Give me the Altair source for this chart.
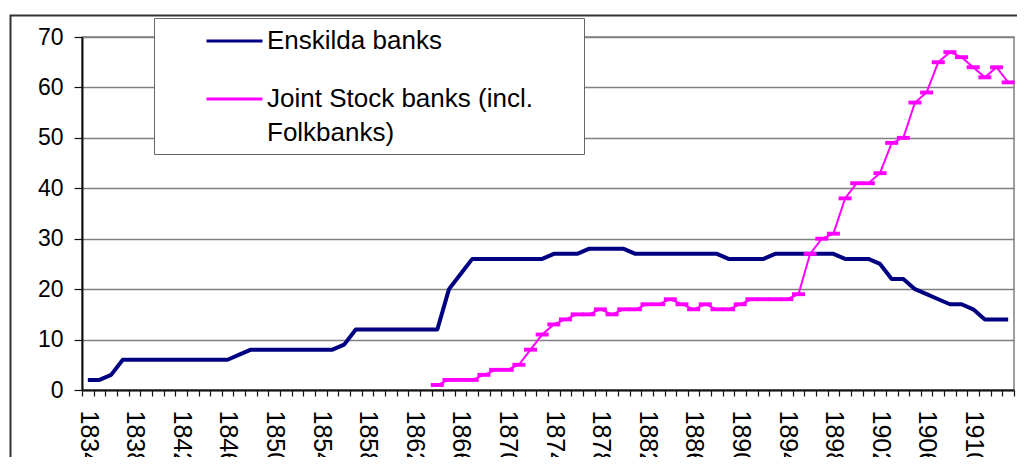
import altair as alt
import pandas as pd

# ---- data ----
years = list(range(1834, 1914))
enskilda = [2, 2, 3, 6, 6, 6, 6, 6, 6, 6,          # 1834-1843
            6, 6, 6, 7, 8, 8, 8, 8, 8, 8,          # 1844-1853
            8, 8, 9, 12, 12, 12, 12, 12, 12, 12,   # 1854-1863
            12, 20, 23, 26, 26, 26, 26, 26, 26, 26,  # 1864-1873
            27, 27, 27, 28, 28, 28, 28, 27, 27, 27,  # 1874-1883
            27, 27, 27, 27, 27, 26, 26, 26, 26, 27,  # 1884-1893
            27, 27, 27, 27, 27, 26, 26, 26, 25, 22,  # 1894-1903
            22, 20, 19, 18, 17, 17, 16, 14, 14, 14]  # 1904-1913

joint_years = list(range(1864, 1914))
joint = [1, 2, 2, 2, 3, 4, 4, 5, 8, 11,          # 1864-1873
         13, 14, 15, 15, 16, 15, 16, 16, 17, 17,  # 1874-1883
         18, 17, 16, 17, 16, 16, 17, 18, 18, 18,  # 1884-1893
         18, 19, 27, 30, 31, 38, 41, 41, 43, 49,  # 1894-1903
         50, 57, 59, 65, 67, 66, 64, 62, 64, 61]  # 1904-1913

series_names = ["Enskilda banks", "Joint Stock banks (incl. Folkbanks)"]
series_colors = ["#000080", "#FF00FF"]
y_ticks = [0, 10, 20, 30, 40, 50, 60, 70]
x_tick_values = [y - 0.5 for y in range(1834, 1915)]

df_e = pd.DataFrame({"year": years, "value": enskilda, "series": series_names[0]})
df_j = pd.DataFrame({"year": joint_years, "value": joint, "series": series_names[1]})

FONT = "Liberation Sans"
# trailing blank room in the legend box (zero-width end char keeps it from being trimmed)
pad = "\u00a0" * 6 + "\u200b"

x_enc = alt.X(
    "year:Q",
    scale=alt.Scale(domain=[1833.5, 1913.5], nice=False, zero=False),
    axis=alt.Axis(
        title=None, values=x_tick_values, grid=False,
        labelExpr="((datum.value + 0.5 - 1834) % 4 == 0 && datum.value < 1913) ? format(datum.value + 0.5, 'd') : ''",
        labelAngle=90, labelOffset=6, labelPadding=14, labelFontSize=25,
        labelOverlap=False, labelFlush=False, tickSize=6,
        domainWidth=2, tickWidth=1.2,
    ),
)
y_enc = alt.Y(
    "value:Q",
    scale=alt.Scale(domain=[0, 70], nice=False),
    axis=alt.Axis(
        title=None, values=y_ticks, grid=True, gridColor="#808080", gridWidth=1.3,
        tickSize=8, labelPadding=11, labelFontSize=23, domainWidth=2, tickWidth=1.2,
    ),
)

legend = alt.Legend(
    title=None, orient="none", legendX=72, legendY=-19, direction="vertical",
    padding=7.5, strokeColor="#666666", fillColor="white",
    symbolType="M-2,0H2", symbolSize=784, symbolStrokeWidth=3, symbolOffset=57.5,
    labelOffset=17, labelFontSize=26, labelFont=FONT, labelColor="black",
    labelLimit=800, rowPadding=29,
    labelExpr="datum.value == 'Enskilda banks' ? datum.label : ['Joint Stock banks (incl." + pad + "', 'Folkbanks)']",
)
color_enc = alt.Color(
    "series:N",
    scale=alt.Scale(domain=series_names, range=series_colors),
    legend=legend,
)

frame = alt.Chart(alt.Data(values=[{"a": 1}])).mark_rect(
    fillOpacity=0, stroke="#333333", strokeWidth=2
).encode(
    x=alt.value(-71.5), x2=alt.value(1100), y=alt.value(-21.5), y2=alt.value(600)
)

line_e = alt.Chart(df_e).mark_line(strokeWidth=4, strokeJoin="round").encode(
    x=x_enc, y=y_enc, color=color_enc
)
line_j = alt.Chart(df_j).mark_line(strokeWidth=2).encode(
    x=x_enc, y=y_enc, color=color_enc
)
marks_j = alt.Chart(df_j).mark_point(
    shape="M-1,-0.3H1V0.3H-1Z", filled=True, size=169, opacity=1, color="#FF00FF"
).encode(x=x_enc, y=y_enc)

chart = alt.layer(frame, line_e, line_j, marks_j).properties(
    width=932, height=353,
    padding={"left": 74, "top": 29, "right": 3, "bottom": 67},
    autosize="none",
).configure(
    style={"guide-label": {"lineHeight": 34}}
).configure_view(
    stroke="#808080", strokeWidth=1.5
).configure_axis(
    labelFont=FONT, labelColor="black", domainColor="#111111", tickColor="#111111"
)

chart.save("out.html", embed_options={"renderer": "svg", "actions": False})
